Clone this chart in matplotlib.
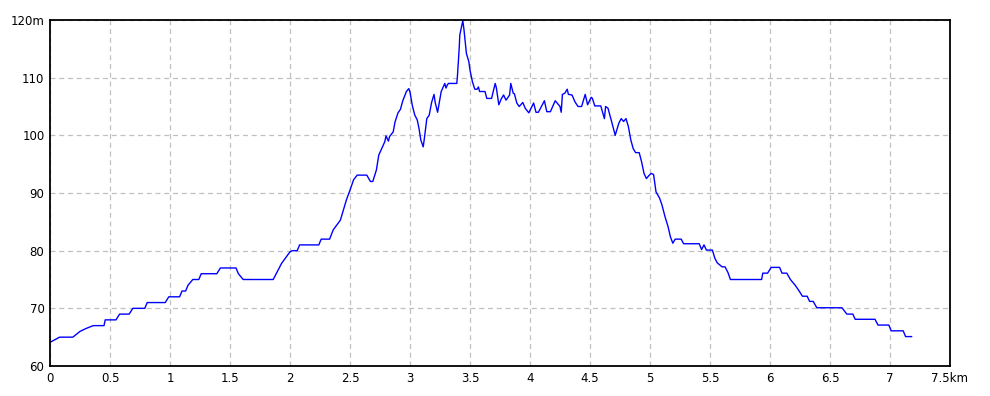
import matplotlib
matplotlib.use('Agg')
import matplotlib.pyplot as plt

# elevation profile (km, m)
dist_km = [0.00, 0.08, 0.19, 0.25, 0.30, 0.36, 0.45, 0.46, 0.55, 0.58, 0.66, 0.69, 0.79, 0.81, 0.96,
           0.99, 1.08, 1.10, 1.13, 1.15, 1.19, 1.24, 1.26, 1.39, 1.42, 1.55, 1.57, 1.61, 1.86, 1.93,
           2.00, 2.02, 2.06, 2.08, 2.24, 2.26, 2.33, 2.36, 2.42, 2.47, 2.50, 2.53, 2.56, 2.64, 2.67,
           2.69, 2.72, 2.74, 2.76, 2.79, 2.80, 2.82, 2.83, 2.86, 2.875, 2.90, 2.92, 2.94, 2.97, 2.99,
           3.00, 3.02, 3.04, 3.06, 3.075, 3.09, 3.11, 3.12, 3.13, 3.14, 3.16, 3.18, 3.20, 3.21, 3.23,
           3.25, 3.26, 3.29, 3.30, 3.31, 3.32, 3.39, 3.395, 3.41, 3.415, 3.44, 3.45, 3.46, 3.47, 3.49,
           3.50, 3.52, 3.54, 3.56, 3.57, 3.58, 3.625, 3.64, 3.68, 3.69, 3.71, 3.72, 3.74, 3.76, 3.78,
           3.80, 3.83, 3.84, 3.86, 3.87, 3.89, 3.91, 3.94, 3.96, 3.99, 4.03, 4.05, 4.07, 4.12, 4.14,
           4.17, 4.21, 4.25, 4.26, 4.27, 4.29, 4.31, 4.32, 4.35, 4.375, 4.40, 4.43, 4.46, 4.48, 4.51,
           4.52, 4.54, 4.59, 4.62, 4.63, 4.65, 4.68, 4.71, 4.74, 4.76, 4.78, 4.80, 4.82, 4.84, 4.86,
           4.88, 4.91, 4.93, 4.95, 4.97, 4.99, 5.01, 5.03, 5.05, 5.08, 5.10, 5.125, 5.15, 5.17, 5.19,
           5.21, 5.26, 5.28, 5.41, 5.43, 5.45, 5.47, 5.52, 5.54, 5.56, 5.60, 5.625, 5.65, 5.67, 5.93,
           5.94, 5.98, 6.01, 6.08, 6.10, 6.14, 6.17, 6.21, 6.24, 6.27, 6.31, 6.33, 6.36, 6.39, 6.60,
           6.64, 6.69, 6.71, 6.875, 6.90, 6.99, 7.01, 7.11, 7.13, 7.18]
elev_m = [64.1, 65, 65, 66, 66.5, 67, 67, 68, 68, 69, 69, 70, 70, 71, 71,
          72, 72, 73, 73, 74, 75, 75, 76, 76, 77, 77, 76, 75, 75, 77.8,
          79.8, 80, 80, 81, 81, 82, 82, 83.6, 85.3, 88.8, 90.5, 92.3, 93.1, 93.1, 92,
          92, 94, 96.6, 97.5, 98.9, 99.9, 99.0, 99.8, 100.6, 102.3, 103.9, 104.5, 106, 107.6, 108.1,
          107.5, 105.1, 103.5, 102.7, 101.2, 99.2, 98.0, 99.5, 101.2, 102.9, 103.5, 105.7, 107.1, 105.7, 104,
          106.4, 107.6, 109.0, 108.2, 108.7, 109, 109, 110.2, 115.1, 117.4, 119.9, 118.3, 116.2, 114.2, 112.8,
          111.3, 109.3, 108, 108, 108.4, 107.6, 107.6, 106.4, 106.4, 107.3, 109.0, 108.2, 105.3, 106.3, 107,
          106.1, 107, 109, 107.3, 107.2, 105.6, 105, 105.7, 104.7, 103.9, 105.6, 104, 104, 106, 104.1,
          104.1, 106, 105, 104, 107.1, 107.3, 108, 107.1, 107, 105.8, 105, 105, 107.1, 105.3, 106.6,
          106.4, 105.1, 105.1, 102.9, 105, 104.7, 102.4, 100, 102.1, 102.9, 102.4, 102.9, 101.5, 99.2, 97.7,
          97.0, 97.0, 95.4, 93.4, 92.5, 93, 93.4, 93.2, 90.2, 89.1, 87.9, 85.9, 84.2, 82.4, 81.3,
          82, 82, 81.2, 81.2, 80.2, 81, 80.1, 80.1, 78.7, 77.9, 77.2, 77.2, 76.2, 75, 75,
          76.1, 76.1, 77.1, 77.1, 76.1, 76.1, 75, 74, 73.1, 72.1, 72.1, 71.2, 71.2, 70.1, 70.1,
          69, 69, 68.1, 68.1, 67.1, 67.1, 66.1, 66.1, 65.1, 65.1]

x_ticks = [0, 0.5, 1, 1.5, 2, 2.5, 3, 3.5, 4, 4.5, 5, 5.5, 6, 6.5, 7, 7.5]
x_labels = ['0', '0.5', '1', '1.5', '2', '2.5', '3', '3.5', '4', '4.5', '5', '5.5', '6', '6.5', '7', '7.5km']
y_ticks = [60, 70, 80, 90, 100, 110, 120]
y_labels = ['60', '70', '80', '90', '100', '110', '120m']

fig = plt.figure(figsize=(9.9, 3.96), dpi=100)
ax = fig.add_axes([50 / 990, 30 / 396, 900 / 990, 346 / 396])

ax.plot(dist_km, elev_m, color='#0000ff', linewidth=1.0)

ax.set_xlim(0, 7.5)
ax.set_ylim(60, 120)
ax.set_xticks(x_ticks)
ax.set_xticklabels(x_labels)
ax.set_yticks(y_ticks)
ax.set_yticklabels(y_labels)
ax.tick_params(length=0, labelsize=8.5, pad=4, colors='black')

ax.grid(True, color='#c0c0c0', linestyle=(0, (4, 3)), linewidth=0.9)
for s in ax.spines.values():
    s.set_color('black')
    s.set_linewidth(1.3)

fig.savefig('out.png', dpi=100, facecolor='white')
